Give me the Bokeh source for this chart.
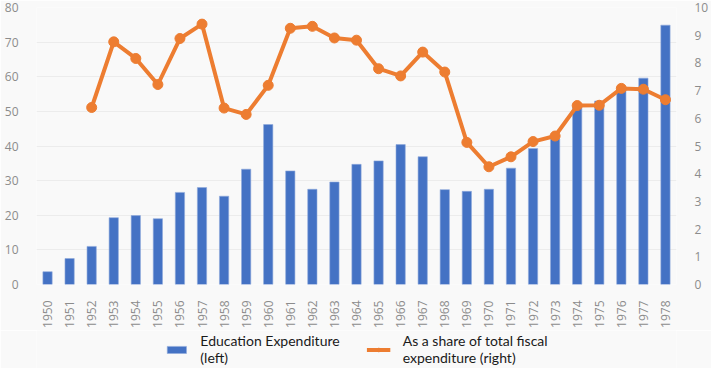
import math
from bokeh.plotting import figure
from bokeh.layouts import column
from bokeh.models import (Range1d, LinearAxis, FactorRange, Legend, LegendItem,
                          SingleIntervalTicker, ColumnDataSource)
from bokeh.embed import file_html
from bokeh.resources import INLINE

years = [str(y) for y in range(1950, 1979)]
education_exp = [3.7, 7.5, 11.0, 19.3, 19.9, 19.0, 26.6, 28.0, 25.5, 33.3,
                 46.2, 32.8, 27.5, 29.6, 34.7, 35.7, 40.4, 36.9, 27.4, 26.9,
                 27.5, 33.6, 39.3, 42.0, 51.2, 53.0, 56.5, 59.6, 74.9]
share_years = [str(y) for y in range(1952, 1979)]
share_fiscal = [6.39, 8.76, 8.16, 7.22, 8.88, 9.40, 6.37, 6.14, 7.19, 9.25,
                9.32, 8.90, 8.82, 7.79, 7.53, 8.39, 7.67, 5.13, 4.25, 4.61,
                5.16, 5.36, 6.46, 6.47, 7.08, 7.05, 6.67]
left_label = "Education Expenditure\n(left)"
right_label = "As a share of total fiscal\nexpenditure (right)"

BG = "#f9f9f9"
GREY = "#8c8c8c"
BLUE = "#4472C4"
ORANGE = "#ED7D31"

p = figure(width=711, height=330, x_range=FactorRange(*years, range_padding=0),
           y_range=Range1d(0, 80), output_backend="svg", toolbar_location=None,
           min_border_left=36, min_border_right=35, min_border_top=7,
           min_border_bottom=43)
p.background_fill_color = BG
p.border_fill_color = BG
p.outline_line_color = None
p.extra_y_ranges = {"right": Range1d(0, 10)}

bar_kw = dict(fill_color=BLUE, line_color="#8faadc", line_width=0.6)
line_kw = dict(line_color=ORANGE, line_width=4)
pt_kw = dict(size=10, fill_color=ORANGE, line_color=ORANGE)

p.vbar(x=years, top=education_exp, width=0.42, **bar_kw)
p.line(x=share_years, y=share_fiscal, y_range_name="right", **line_kw)
p.scatter(x=share_years, y=share_fiscal, y_range_name="right", **pt_kw)

raxis = LinearAxis(y_range_name="right", ticker=SingleIntervalTicker(interval=1))
p.add_layout(raxis, "right")
p.yaxis[0].ticker = SingleIntervalTicker(interval=10)

for ax in p.yaxis + p.xaxis:
    ax.axis_line_color = None
    ax.major_tick_line_color = None
    ax.minor_tick_line_color = None
    ax.major_label_text_color = GREY
    ax.major_label_text_font = "Open Sans"
    ax.major_label_text_font_size = "12px"
p.yaxis[0].major_label_standoff = 12
raxis.major_label_standoff = 12
p.xaxis.major_label_orientation = math.pi / 2
p.xaxis.major_label_standoff = 10

p.xgrid.grid_line_color = None
p.ygrid.grid_line_color = "#ececec"
p.ygrid.ticker = SingleIntervalTicker(interval=10)

# legend strip (renderers hold no visible data; they only supply legend glyphs)
lg = figure(width=711, height=38, x_range=Range1d(0, 1), y_range=Range1d(0, 1),
            x_axis_type=None, y_axis_type=None, output_backend="svg",
            toolbar_location=None, min_border=0)
lg.background_fill_color = BG
lg.border_fill_color = BG
lg.outline_line_color = None
lg.grid.grid_line_color = None
nan = float("nan")
empty = ColumnDataSource(dict(x=[nan], y=[nan]))
r_bar = lg.vbar(x="x", top="y", width=0.4, source=empty, **bar_kw)
r_ln = lg.line(x="x", y="y", source=empty, **line_kw)
r_pt = lg.scatter(x="x", y="y", source=empty, **pt_kw)

legend = Legend(items=[LegendItem(label=left_label, renderers=[r_bar]),
                       LegendItem(label=right_label, renderers=[r_ln, r_pt])],
                location="center", orientation="horizontal", padding=0,
                margin=0, spacing=27, glyph_width=24, glyph_height=9,
                label_standoff=12, background_fill_alpha=0,
                border_line_color=None, label_text_font="Lato",
                label_text_font_size="14px", label_text_color="#1a1a1a",
                label_text_line_height=1.35)
lg.add_layout(legend, "center")

layout = column(p, lg, spacing=0)
open("out.html", "w").write(file_html(layout, INLINE))
